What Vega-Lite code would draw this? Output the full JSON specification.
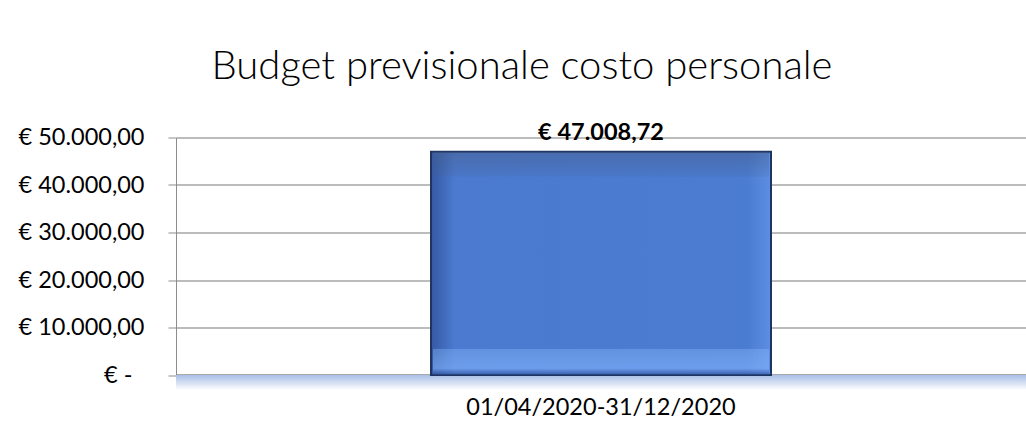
{
  "$schema": "https://vega.github.io/schema/vega-lite/v6.json",
  "autosize": "none",
  "width": 850,
  "height": 237.5,
  "padding": {"left": 176, "top": 137.5, "right": 0, "bottom": 56},
  "background": "white",
  "config": {
    "locale": {"number": {"decimal": ",", "thousands": ".", "grouping": [3], "currency": ["€ ", ""]}},
    "view": {"stroke": null},
    "font": "Lato"
  },
  "title": {
    "text": "Budget previsionale costo personale",
    "font": "Lato",
    "fontWeight": 300,
    "fontSize": 40,
    "color": "#000000",
    "anchor": "middle",
    "dx": -79,
    "offset": 34
  },
  "data": {"values": [{"periodo": "01/04/2020-31/12/2020", "costo": 47008.72}]},
  "layer": [
    {
      "mark": {"type": "rect", "clip": false, "fill": {"gradient": "linear", "x1": 0, "y1": 0, "x2": 0, "y2": 1, "stops": [{"offset": 0, "color": "#a9bfe6"}, {"offset": 1, "color": "#ffffff"}]}},
      "encoding": {
        "y": {"datum": 0, "type": "quantitative", "scale": {"domain": [0, 50000]}},
        "y2": {"datum": -3200}
      }
    },
    {
      "mark": {"type": "bar", "size": 340, "fill": {"gradient": "linear", "x1": 0, "y1": 0, "x2": 1, "y2": 0, "stops": [{"offset": 0, "color": "#3559a3"}, {"offset": 0.07, "color": "#4b7ad0"}, {"offset": 0.93, "color": "#4a7cd2"}, {"offset": 1, "color": "#5c8fe2"}]}, "stroke": "#1f3561", "strokeWidth": 2},
      "encoding": {
        "x": {
          "field": "periodo", "type": "nominal", "title": null,
          "axis": {"labelAngle": 0, "labelFont": "Lato", "labelFontSize": 23.5, "labelLimit": 600, "labelColor": "#000000", "labelPadding": 20, "ticks": false, "domainColor": "#8c8c8c", "domainWidth": 2.5}
        },
        "y": {
          "field": "costo", "type": "quantitative", "title": null,
          "scale": {"domain": [0, 50000], "nice": false},
          "axis": {
            "values": [0, 10000, 20000, 30000, 40000, 50000],
            "format": ",.2f",
            "labelExpr": "datum.value == 0 ? '€ -' : '€ ' + datum.label",
            "labelFont": "Lato", "labelFontSize": 23.5, "labelColor": "#000000", "labelLimit": 300,
            "labelPadding": {"condition": {"test": "datum.value == 0", "value": 36}, "value": 24},
            "tickSize": 8, "tickColor": "#8c8c8c", "domainColor": "#8c8c8c",
            "grid": true, "gridColor": "#a6a6a6", "gridWidth": 1.3
          }
        }
      }
    },
    {
      "mark": {"type": "bar", "size": 336, "fill": {"gradient": "linear", "x1": 0, "y1": 0, "x2": 0, "y2": 1, "stops": [{"offset": 0, "color": "rgba(70,90,130,0.45)"}, {"offset": 0.11, "color": "rgba(70,90,130,0.12)"}, {"offset": 0.115, "color": "rgba(74,124,210,0)"}, {"offset": 0.88, "color": "rgba(74,124,210,0)"}, {"offset": 0.885, "color": "rgba(140,190,255,0.35)"}, {"offset": 0.97, "color": "rgba(130,180,255,0.6)"}, {"offset": 1, "color": "rgba(40,70,140,0.6)"}]}},
      "encoding": {
        "x": {"field": "periodo", "type": "nominal"},
        "y": {"field": "costo", "type": "quantitative"}
      }
    },
    {
      "mark": {"type": "text", "fontWeight": "bold", "fontSize": 23.5, "font": "Lato", "color": "#000000", "baseline": "alphabetic", "dy": -12},
      "encoding": {
        "x": {"field": "periodo", "type": "nominal"},
        "y": {"field": "costo", "type": "quantitative"},
        "text": {"field": "costo", "type": "quantitative", "format": "$,.2f"}
      }
    }
  ]
}
